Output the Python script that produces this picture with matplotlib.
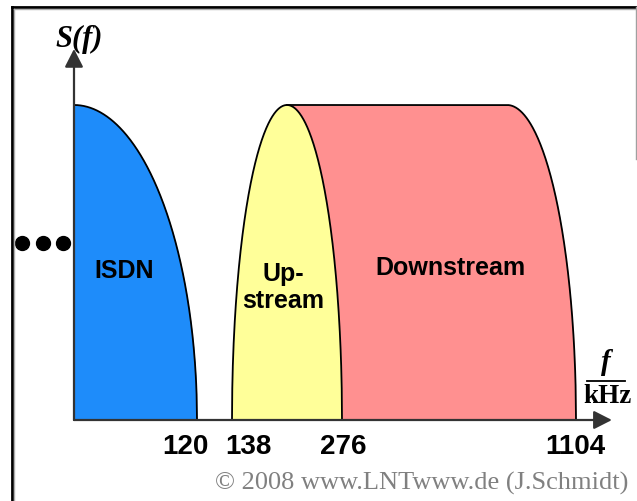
import numpy as np
import matplotlib.pyplot as plt

# band edges in kHz
isdn_band = [0, 120]
up_band = [138, 276]
down_band = [207, 1104]   # downstream starts under the upstream hump
down_flat_end = 860        # where the flat top of the downstream band ends
tick_values = [120, 138, 276, 1104]
band_names = ["ISDN", "Up-\nstream", "Downstream"]
colors = ["#1E8CFA", "#FFFF99", "#FF9090"]

# schematic (non-linear) frequency axis: piecewise linear scale
f_knots = np.array([-100, 0, 120, 138, 276, 1104, 1400])
u_knots = np.array([-102.5, 0, 123, 158, 268, 502, 585.7])


def forward(f):
    return np.interp(f, f_knots, u_knots)


def inverse(u):
    return np.interp(u, u_knots, f_knots)


W, H = 637, 502
fig = plt.figure(figsize=(W / 100, H / 100), dpi=100)
ax = fig.add_axes([0, 0, 1, 1])
ax.set_xscale('function', functions=(forward, inverse))
ax.set_xlim(inverse(-74), inverse(W - 74))
ax.set_ylim((421 - H) / 315, 421 / 315)
ax.axis('off')

# ISDN band: quarter ellipse
f = np.linspace(isdn_band[0], isdn_band[1], 300)
s = np.sqrt(np.clip(1 - (f / isdn_band[1]) ** 2, 0, None))
ax.fill_between(f, 0, s, color=colors[0], lw=0, zorder=2)
ax.plot(f, s, color='black', lw=1.3, zorder=3)

# Downstream band: flat top, then quarter ellipse down to 1104
f = np.linspace(down_band[0], down_band[1], 600)
r = np.clip((f - down_flat_end) / (down_band[1] - down_flat_end), 0, 1)
s = np.sqrt(1 - r ** 2)
ax.fill_between(f, 0, s, color=colors[2], lw=0, zorder=2)
ax.plot(f, s, color='black', lw=1.3, zorder=3)

# Upstream band: half ellipse drawn on top
c = (up_band[0] + up_band[1]) / 2
hw = (up_band[1] - up_band[0]) / 2
f = np.linspace(up_band[0], up_band[1], 400)
s = np.sqrt(np.clip(1 - ((f - c) / hw) ** 2, 0, None))
ax.fill_between(f, 0, s, color=colors[1], lw=0, zorder=4)
ax.plot(f, s, color='black', lw=1.3, zorder=5)

# band labels
ax.text(49, 0.476, band_names[0], ha='center', va='center', fontsize=18,
        fontweight='bold', family='Liberation Sans', zorder=6)
ax.text(202, 0.425, band_names[1], ha='center', va='center', fontsize=18,
        fontweight='bold', family='Liberation Sans', linespacing=1.15, zorder=6)
ax.text(658, 0.486, band_names[2], ha='center', va='center', fontsize=18,
        fontweight='bold', family='Liberation Sans', zorder=6)

# axes with arrows
arrow = dict(arrowstyle='-|>,head_length=0.55,head_width=0.28',
             color='#333333', lw=1.6, mutation_scale=20, shrinkA=0, shrinkB=0)
ax.annotate('', xy=(0, 1.178), xytext=(0, 0), arrowprops=arrow, zorder=7)
ax.annotate('', xy=(1231, 0), xytext=(0, 0), arrowprops=arrow, zorder=7)

# tick labels
offsets = [-12, 16, 1, -1]
for v, dx in zip(tick_values, offsets):
    ax.annotate(str(v), xy=(v, 0), xytext=(dx, -26), textcoords='offset pixels',
                ha='center', va='center', fontsize=20, fontweight='bold',
                family='Liberation Sans')

# dots left of the axis
ax.plot([-50.7, -30.2, -10.7], [0.562] * 3, 'o', color='black', ms=10,
        clip_on=False)

# axis titles
fig.text(79 / W, 1 - 39 / H, 'S(f)', ha='center', va='center', fontsize=22,
         fontstyle='italic', fontweight='bold', family='Liberation Serif')
fig.text(606 / W, 1 - 363 / H, 'f', ha='center', va='center', fontsize=21,
         fontstyle='italic', fontweight='bold', family='Liberation Serif')
fig.add_artist(plt.Line2D([587 / W, 625 / W], [1 - 382 / H] * 2,
                          color='black', lw=1.3))
fig.text(607 / W, 1 - 397 / H, 'kHz', ha='center', va='center', fontsize=19.5,
         fontweight='bold', family='Liberation Serif')

# copyright
fig.text(628 / W, 1 - 483 / H, '\u00a9 2008 www.LNTwww.de (J.Schmidt)',
         ha='right', va='center', fontsize=19, color='#808080',
         family='Liberation Serif')

# frame
fig.add_artist(plt.Line2D([11.5 / W, 636 / W], [1 - 8 / H] * 2, color='black', lw=2))
fig.add_artist(plt.Line2D([11.5 / W] * 2, [0, 1 - 8 / H], color='black', lw=2))
fig.add_artist(plt.Line2D([14 / W, 636 / W], [1 - 10 / H] * 2, color='#b0b0b0', lw=1))
fig.add_artist(plt.Line2D([14 / W] * 2, [0, 1 - 10 / H], color='#b0b0b0', lw=1))
fig.add_artist(plt.Line2D([635.5 / W] * 2, [1 - 160 / H, 1 - 8 / H], color='#a0a0a0', lw=1))

fig.savefig('out.png', dpi=100)
